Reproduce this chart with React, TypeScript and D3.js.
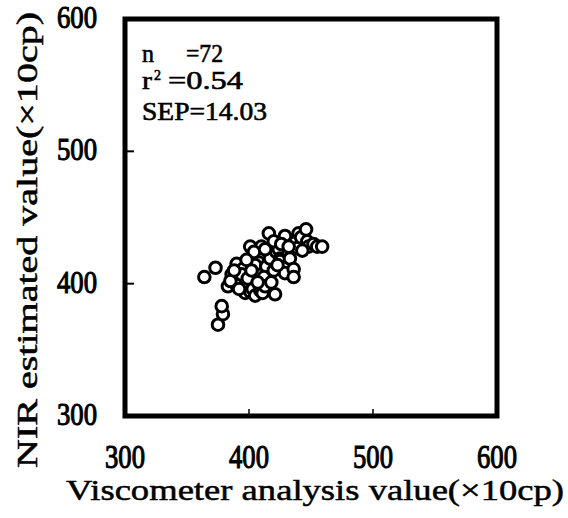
import React, { useEffect, useRef } from "react";
import * as d3 from "d3";

// Viscometer value (x) vs NIR estimated value (y), both x10cp
const VISCO = [
  364, 373, 375, 379, 378, 383, 386, 390, 393, 397, 397, 401, 403, 405, 409, 411, 421, 401,
  401, 409, 410, 406, 408, 405, 395, 390, 394, 416, 417, 416, 417, 414, 417, 422, 424, 425,
  425, 429, 429, 429, 432, 433, 436, 436, 437, 439, 440, 442, 446, 447, 448, 452, 455, 459,
  385, 399, 412, 420, 413, 404, 413, 420, 426, 398, 392, 418, 432, 407, 443, 388, 402, 423,
];
const NIR = [
  405, 412, 369, 377, 383, 398, 407, 415, 406, 412, 393, 394, 396, 391, 395, 393, 392, 428,
  419, 421, 428, 409, 416, 414, 411, 399, 407, 438, 423, 416, 408, 413, 419, 424, 426, 419,
  417, 436, 412, 408, 423, 419, 411, 405, 431, 427, 438, 435, 441, 432, 428, 430, 428, 428,
  402, 404, 405, 410, 398, 424, 426, 432, 430, 418, 396, 401, 428, 401, 425, 410, 410, 414,
];
const TICKS = [300, 400, 500, 600];
const STATS = { n: "=72", r2: "=0.54", sep: "SEP=14.03" };

const FONT = "'Liberation Serif', 'DejaVu Serif', serif";

export default function App() {
  const svgRef = useRef<SVGSVGElement>(null);

  useEffect(() => {
    const svg = d3.select(svgRef.current);
    svg.selectAll("*").remove();

    const x = d3.scaleLinear().domain([300, 600]).range([125, 497]);
    const y = d3.scaleLinear().domain([300, 600]).range([416, 19]);

    // scanned-print look: regular weight thickened with a thin stroke
    const ink = (sel: any, size: number, sw = 0.7) =>
      sel.style("font-family", FONT).style("font-size", size + "px")
        .attr("fill", "#000").attr("stroke", "#000").attr("stroke-width", sw);

    // frame
    svg.append("rect")
      .attr("x", x(300)).attr("y", y(600))
      .attr("width", x(600) - x(300)).attr("height", y(300) - y(600))
      .attr("fill", "none").attr("stroke", "#000").attr("stroke-width", 5);

    // inner ticks
    const inner = TICKS.slice(1, -1);
    svg.selectAll(".ty").data(inner).join("line")
      .attr("x1", x(300)).attr("x2", x(300) + 9)
      .attr("y1", d => y(d)).attr("y2", d => y(d))
      .attr("stroke", "#000").attr("stroke-width", 2);
    svg.selectAll(".tx").data(inner).join("line")
      .attr("x1", d => x(d)).attr("x2", d => x(d))
      .attr("y1", y(300)).attr("y2", y(300) - 7)
      .attr("stroke", "#000").attr("stroke-width", 1.5);

    // tick labels
    ink(svg.selectAll(".lx").data(TICKS).join("text")
      .attr("x", d => x(d)).attr("y", 468)
      .attr("text-anchor", "middle")
      .attr("textLength", 40).attr("lengthAdjust", "spacingAndGlyphs"), 33, 1.1)
      .text(d => d);
    ink(svg.selectAll(".ly").data(TICKS).join("text")
      .attr("x", 97).attr("y", d => y(d) + 9)
      .attr("text-anchor", "end")
      .attr("textLength", 40).attr("lengthAdjust", "spacingAndGlyphs"), 31, 1.1)
      .text(d => d);

    // axis titles
    ink(svg.append("text")
      .attr("x", 66).attr("y", 500)
      .attr("textLength", 498).attr("lengthAdjust", "spacingAndGlyphs"), 30, 0.5)
      .text("Viscometer analysis value(\u00d710cp)");
    ink(svg.append("text")
      .attr("transform", "translate(37,468) rotate(-90)")
      .attr("x", 0).attr("y", 0)
      .attr("textLength", 456).attr("lengthAdjust", "spacingAndGlyphs"), 30, 0.5)
      .text("NIR estimated value(\u00d710cp)");

    // stats block
    const stat = (tx: number, ty: number, s: string, size = 25, len?: number) => {
      const t = ink(svg.append("text").attr("x", tx).attr("y", ty), size, 0.6).text(s);
      if (len) t.attr("textLength", len).attr("lengthAdjust", "spacingAndGlyphs");
    };
    stat(142, 62, "n", 25, 12);
    stat(186, 62, STATS.n, 25, 37);
    stat(142, 89, "r", 25, 10);
    stat(154, 80, "2", 14);
    stat(168, 89, STATS.r2, 25, 75);
    stat(142, 120, STATS.sep, 25, 125);

    // points
    const pts = VISCO.map((v, i) => ({ v, n: NIR[i] }));
    svg.selectAll("circle").data(pts).join("circle")
      .attr("cx", d => x(d.v)).attr("cy", d => y(d.n))
      .attr("r", 5.8)
      .attr("fill", "#fff").attr("stroke", "#000").attr("stroke-width", 3);
  }, []);

  return (
    <svg ref={svgRef} width={568} height={518}
      style={{ position: "absolute", left: 0, top: 0, background: "#fff" }} />
  );
}
